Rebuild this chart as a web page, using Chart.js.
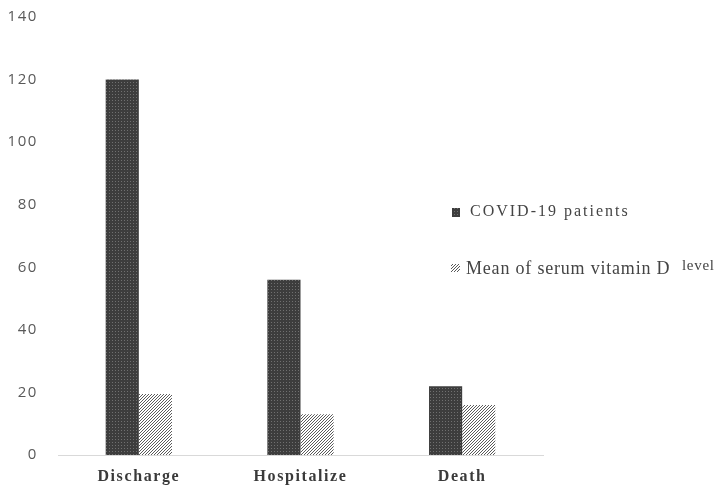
<!DOCTYPE html>
<html>
<head>
<meta charset="utf-8">
<script src="https://cdn.jsdelivr.net/npm/chart.js@4"></script>
<style>
  html, body { margin: 0; padding: 0; background: #fff; }
  #wrap { width: 724px; height: 492px; }
</style>
</head>
<body>
<div id="wrap"><canvas id="chart"></canvas></div>
<script>
const categories = ["Discharge", "Hospitalize", "Death"];
const patients = [120, 56, 22];
const vitaminD = [19.5, 13, 16];
const yTicks = [0, 20, 40, 60, 80, 100, 120, 140];
const seriesNames = ["COVID-19 patients", "Mean of serum vitamin D", "level"];

// dotted dark fill
function dotPattern() {
  const c = document.createElement("canvas");
  c.width = 3; c.height = 3;
  const g = c.getContext("2d");
  g.fillStyle = "#3d3d3d";
  g.fillRect(0, 0, 3, 3);
  g.fillStyle = "#707070";
  g.fillRect(1, 1, 1, 1);
  return g.createPattern(c, "repeat");
}

// diagonal hatch fill
function hatchPattern() {
  const s = 3;
  const c = document.createElement("canvas");
  c.width = s; c.height = s;
  const g = c.getContext("2d");
  g.fillStyle = "#ffffff";
  g.fillRect(0, 0, s, s);
  g.fillStyle = "#5a5a5a";
  for (let i = 0; i < s; i++) g.fillRect(s - 1 - i, i, 1, 1);
  return g.createPattern(c, "repeat");
}

const dots = dotPattern();
const hatch = hatchPattern();

const spacingPlugin = {
  id: "spacing",
  beforeDraw(chart) { chart.ctx.letterSpacing = "1.6px"; },
  afterDraw(chart) { chart.ctx.letterSpacing = "0px"; }
};

const legendPlugin = {
  id: "sideLegend",
  afterDraw(chart) {
    const ctx = chart.ctx;
    ctx.save();
    ctx.fillStyle = dots;
    ctx.fillRect(452, 208, 8, 9);
    ctx.fillStyle = hatch;
    ctx.fillRect(451, 264, 9, 8);
    ctx.fillStyle = "#444";
    ctx.textBaseline = "middle";
    ctx.letterSpacing = "2px";
    ctx.font = "16px 'Liberation Serif', 'Times New Roman', serif";
    ctx.fillText(seriesNames[0], 470, 212);
    ctx.letterSpacing = "0.8px";
    ctx.font = "18px 'Liberation Serif', 'Times New Roman', serif";
    ctx.fillText(seriesNames[1], 466, 269);
    ctx.letterSpacing = "0.7px";
    ctx.font = "15px 'Liberation Serif', 'Times New Roman', serif";
    ctx.fillText(seriesNames[2], 682, 266);
    ctx.restore();
  }
};

new Chart(document.getElementById("chart"), {
  type: "bar",
  data: {
    labels: categories,
    datasets: [
      { label: seriesNames[0], data: patients, backgroundColor: dots },
      { label: seriesNames[1] + " " + seriesNames[2], data: vitaminD, backgroundColor: hatch }
    ]
  },
  options: {
    responsive: true,
    maintainAspectRatio: false,
    animation: false,
    layout: { padding: { top: 17, right: 181, left: 0, bottom: 0 } },
    plugins: {
      legend: { display: false },
      tooltip: { enabled: false }
    },
    datasets: {
      bar: { categoryPercentage: 0.41, barPercentage: 1 }
    },
    scales: {
      x: {
        grid: { display: false, drawTicks: false },
        border: { display: true, color: "#d9d9d9", width: 1 },
        ticks: {
          color: "#3a3a3a",
          padding: 12,
          font: { family: "'Liberation Serif', 'Times New Roman', serif", size: 16, weight: "bold" }
        },
        afterFit(scale) { scale.height = 37; }
      },
      y: {
        min: 0,
        max: 140,
        grid: { display: false, drawTicks: false },
        border: { display: false },
        afterBuildTicks(scale) { scale.ticks = yTicks.map(v => ({ value: v })); },
        ticks: {
          color: "#595959",
          padding: 20,
          font: { family: "'Open Sans', 'Noto Sans', sans-serif", size: 15 }
        },
        afterFit(scale) {
          scale.width = 58;
          scale.paddingTop = 0;
          scale.paddingBottom = 0;
        }
      }
    }
  },
  plugins: [spacingPlugin, legendPlugin]
});
</script>
</body>
</html>
